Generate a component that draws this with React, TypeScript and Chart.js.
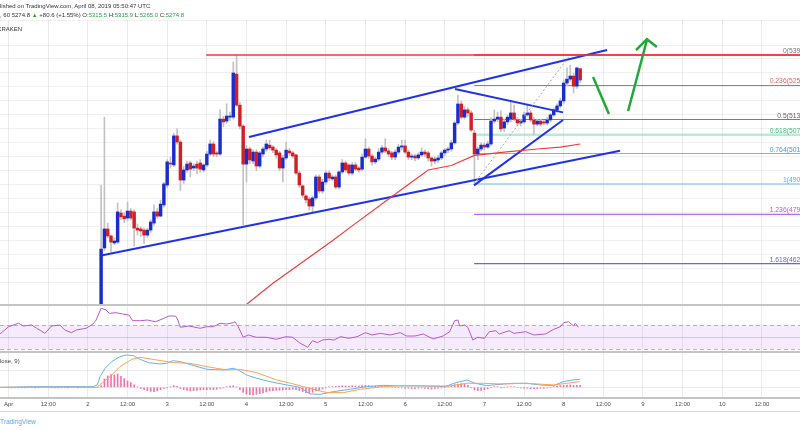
import React, { useEffect, useRef } from "react";
import { Chart, registerables } from "chart.js";

Chart.register(...registerables);

const FONT = '"Liberation Sans", Arial, Helvetica, sans-serif';

// ---- time axis: hours counted from Apr 1 00:00 UTC ----
const X_MIN = -2.603;
const X_MAX = 239.53;
const dayLabels = ["Apr", "2", "3", "4", "5", "6", "7", "8", "9", "10", "11"];
const halfDayLabel = "12:00";

// ---- 60-minute candles, first one at hour 28 ----
const FIRST_HOUR = 28;
const opens = [
  4160, 4674, 4742, 4717, 4692, 4695, 4799, 4788, 4781, 4806, 4803, 4745,
  4742, 4738, 4720, 4738, 4763, 4803, 4788, 4828, 4899, 4978, 4971, 5075,
  5053, 4917, 4953, 4978, 4960, 4974, 4978, 4953, 4971, 5010, 5046, 5014,
  5010, 5135, 5128, 5142, 5142, 5296, 5185, 5110, 4974, 5028, 4985, 5017,
  4967, 5010, 5028, 5042, 5035, 5024, 5014, 4960, 4996, 5021, 5014, 5007,
  4942, 4896, 4860, 4849, 4824, 4853, 4928, 4878, 4910, 4942, 4921, 4928,
  4892, 4946, 4978, 4971, 4942, 4971, 4960, 4956, 4999, 5028, 5003, 4982,
  4992, 5017, 5032, 5021, 5014, 4999, 5017, 5035, 5039, 5017, 4999, 5003,
  4996, 5007, 5017, 5014, 4996, 4985, 4989, 4996, 5014, 5024, 5028, 5050,
  5121, 5189, 5142, 5168, 5157, 5085, 5010, 5028, 5042, 5035, 5046, 5128,
  5135, 5142, 5103, 5125, 5135, 5157, 5132, 5121, 5125, 5150, 5157, 5132,
  5117, 5128, 5125, 5121, 5132, 5150, 5168, 5182, 5200, 5264, 5278, 5289,
  5253, 5315.5,
];
const highs = [
  4899, 5142, 4763, 4720, 4710, 4835, 4810, 4800, 4838, 4815, 4810, 4760,
  4750, 4745, 4745, 4775, 4828, 4815, 4845, 4910, 4990, 5000, 5085, 5100,
  5060, 4965, 4985, 4985, 4975, 4985, 4990, 4975, 5020, 5060, 5055, 5020,
  5168, 5145, 5190, 5160, 5339, 5364, 5195, 5115, 5040, 5035, 5025, 5025,
  5020, 5035, 5060, 5060, 5040, 5030, 5020, 5005, 5053, 5030, 5020, 5010,
  4950, 4900, 4865, 4855, 4860, 4935, 4935, 4920, 4950, 4950, 4935, 4935,
  4950, 4990, 4985, 4975, 4980, 4980, 4965, 5010, 5065, 5035, 5010, 5000,
  5030, 5040, 5065, 5030, 5020, 5025, 5045, 5060, 5060, 5025, 5010, 5010,
  5015, 5032, 5025, 5020, 5000, 5000, 5005, 5020, 5030, 5035, 5060, 5125,
  5221, 5200, 5180, 5175, 5165, 5096, 5035, 5050, 5050, 5055, 5140, 5168,
  5160, 5165, 5135, 5150, 5203, 5185, 5140, 5135, 5160, 5185, 5165, 5140,
  5135, 5135, 5130, 5140, 5155, 5175, 5190, 5210, 5275, 5318, 5328, 5300,
  5322, 5315.9,
];
const lows = [
  4150, 4665, 4710, 4660, 4685, 4690, 4775, 4765, 4770, 4775, 4680, 4720,
  4715, 4690, 4712, 4730, 4755, 4780, 4785, 4820, 4890, 4960, 4965, 5045,
  4880, 4905, 4945, 4928, 4950, 4940, 4945, 4945, 4965, 5005, 5000, 5000,
  5005, 5107, 5120, 5130, 5135, 5180, 5100, 4756, 4910, 4975, 4975, 4950,
  4960, 5000, 5020, 5025, 5015, 4995, 4950, 4910, 4990, 5005, 4995, 4935,
  4890, 4855, 4835, 4810, 4803, 4845, 4870, 4870, 4900, 4915, 4915, 4885,
  4885, 4940, 4945, 4935, 4935, 4950, 4945, 4950, 4995, 4995, 4970, 4975,
  4985, 5010, 5015, 5000, 4990, 4990, 5010, 5025, 5010, 4990, 4990, 4985,
  4990, 5000, 5000, 4985, 4967, 4975, 4980, 4990, 5005, 5015, 5020, 5045,
  5115, 5135, 5135, 5145, 5090, 4903, 4990, 5020, 5025, 5030, 5040, 5120,
  5125, 5090, 5090, 5115, 5125, 5130, 5110, 5110, 5120, 5145, 5125, 5080,
  5110, 5110, 5115, 5115, 5125, 5145, 5160, 5175, 5190, 5255, 5270, 5228,
  5245, 5265.0,
];
const closes = [
  4670, 4742, 4717, 4695, 4699, 4803, 4785, 4778, 4806, 4781, 4745, 4738,
  4735, 4720, 4738, 4767, 4803, 4788, 4831, 4903, 4982, 4974, 5075, 5053,
  4917, 4953, 4974, 4956, 4967, 4960, 4956, 4971, 5010, 5046, 5010, 5010,
  5135, 5125, 5146, 5146, 5300, 5185, 5110, 4974, 5028, 4989, 5017, 4967,
  5014, 5028, 5046, 5032, 5024, 5007, 4960, 4996, 5024, 5014, 5003, 4942,
  4899, 4863, 4846, 4824, 4853, 4928, 4878, 4910, 4942, 4924, 4928, 4892,
  4946, 4978, 4953, 4942, 4971, 4956, 4953, 4999, 5028, 5003, 4982, 4992,
  5017, 5032, 5021, 5010, 4999, 5017, 5035, 5039, 5017, 4999, 5003, 4996,
  5007, 5017, 5010, 4996, 4985, 4992, 4996, 5014, 5024, 5028, 5050, 5121,
  5189, 5142, 5168, 5157, 5096, 5010, 5028, 5042, 5035, 5046, 5128, 5135,
  5142, 5100, 5125, 5142, 5157, 5135, 5121, 5128, 5150, 5157, 5132, 5117,
  5128, 5117, 5121, 5132, 5150, 5168, 5182, 5200, 5264, 5278, 5289, 5253,
  5318, 5274.8,
];

// ---- moving average (red) vertices ----
const maHours = [70, 80, 98, 104, 115, 127, 134, 141, 150, 160, 167, 173];
const maValues = [4453, 4548, 4700, 4753, 4849, 4953, 4969, 5005, 5017, 5028, 5035, 5046];

// ---- drawn trend lines (hour, price) ----
const channelLowerHours = [27.66, 185.05];
const channelLowerPrices = [4646, 5022];
const channelUpperHours = [72.76, 181.11];
const channelUpperPrices = [5071, 5382];
const triangleTopHours = [135.1, 167.8];
const triangleTopPrices = [5243, 5159];
const triangleBottomHours = [140.86, 167.8];
const triangleBottomPrices = [4898, 5132];
const fibDiagonalHours = [140.86, 169.9];
const fibDiagonalPrices = [4903, 5364];
const resistanceHours = [59.8, 245];
const downMoveHours = [176.9, 181.7];
const downMovePrices = [5286, 5153];
const upMoveHours = [187.5, 193.2];
const upMovePrices = [5164, 5418];
const arrowHeadHours = [189.9, 193.2, 196.2];
const arrowHeadPrices = [5382, 5421, 5393];

// ---- Fibonacci retracement ----
const fibHigh = 5364;
const fibLow = 4903;
const fibStartHour = 140.9;
const fibEndHour = 245;
const fibRatios = [0, 0.236, 0.5, 0.618, 0.764, 1, 1.236, 1.618];
const fibLabels = [
  "0(5393.9)", "0.236(5253.2)", "0.5(5136.2)", "0.618(5078.7)",
  "0.764(5013.9)", "1(4906.5)", "1.236(4791.9)", "1.618(4621.9)",
];
const fibLineColors = [
  "rgb(240,55,55)", "rgb(228,95,95)", "rgb(150,110,128)", "rgba(120,220,180,0.55)",
  "rgb(120,180,230)", "rgb(160,205,238)", "rgb(190,105,230)", "rgb(105,105,212)",
];
const fibLineWidths = [1.5, 1, 1.2, 2.5, 1, 1.5, 1.2, 1.2];
const fibTextColors = [
  "rgb(120,120,120)", "rgb(228,95,95)", "rgb(110,90,100)", "rgb(70,185,125)",
  "rgb(70,150,220)", "rgb(90,170,230)", "rgb(180,90,220)", "rgb(100,100,215)",
];

// ---- RSI ----
const rsiHours = [
  -2.6, 0, 3, 4.5, 7, 8.5, 11, 13, 15.5, 17, 19, 20.5, 23.5, 25.5, 26.5, 28, 29.5, 30.5,
  32.5, 34.5, 36.5, 37.5, 40, 42, 44.5, 47, 48.5, 50.5, 51, 52, 54.5, 58, 60, 62, 64, 66,
  68, 68.5, 69.5, 71, 72.5, 75, 78, 81, 84, 86, 88, 90.5, 92, 93.5, 95, 97, 98.5, 100.5,
  103, 105.5, 108, 110, 112.5, 115.5, 118.5, 120.5, 123, 125.5, 128.5, 131.5, 133.5, 135,
  136, 136.5, 138, 139, 140.5, 142, 144, 145.5, 147.5, 148.5, 151.5, 153, 156.5, 159,
  162.5, 165, 167, 168, 169.5, 171, 171.5, 172.5,
];
const rsiValues = [
  55.2, 67.2, 72.8, 68.4, 70, 64.6, 56.3, 68.4, 70, 61.8, 57.4, 61.8, 64.6, 71.6, 78.2, 97.5, 94.7, 89.2,
  90.2, 88.1, 86.4, 77.1, 77.1, 78.2, 75.4, 81, 84.8, 84.8, 81, 66.2, 68.4, 64.6, 67.2, 67.2, 72.8, 71.6,
  73.8, 75.4, 67.2, 49.8, 53.6, 49.8, 49.8, 46.5, 50.8, 49.8, 40.9, 33.3, 44.2, 40.9, 45.3, 46.5, 45.3, 50.8,
  48.1, 50.8, 57.4, 53.6, 56.3, 53.6, 57.4, 51.9, 51.9, 55.2, 47, 51.9, 59, 77.1,
  78.2, 68.4, 70, 66.2, 45.3, 49.8, 48.1, 59, 60.6, 55.2, 60.6, 56.3, 59, 53.6,
  55.2, 62.9, 67.2, 73.8, 75.4, 68.4, 72.8, 66.2,
];
const RSI_MIN = 25.6;
const RSI_MAX = 102.9;
const RSI_UPPER = 70;
const RSI_LOWER = 30;

// ---- MACD ----
const macdHours = [
  -2.6, 7.5, 25.6, 26.8, 27.7, 29.2, 31.2, 33.7, 35.7, 37.7, 39.8, 42.3, 45.8, 47.8, 49.8,
  51.9, 55.4, 60, 65, 68, 69.5, 72, 75.1, 79.1, 84.2, 88.2, 91.2, 94.3, 98.3, 103.3, 108.4,
  113.4, 118.5, 124.5, 132.1, 135.1, 138.7, 141.2, 144.7, 148.7, 152.7, 156.8, 160.8,
  164.9, 167.9, 170.9, 172.9,
];
const macdValues = [
  0, 4, 4, 14, 64, 114, 154, 184, 194, 190, 168, 148, 140, 144, 160,
  154, 134, 108, 104, 114, 104, 74, 54, 34, 14, 0, -40, -42, -26, -12, 4,
  12, 8, 8, 4, 26, 44, 24, 10, 18, 24, 24, 14,
  10, 34, 44, 48,
];
const signalHours = [
  -2.6, 26.7, 30.7, 33.7, 37.3, 39.8, 44.8, 49.8, 54.9, 60, 66, 70, 75.1, 81.1, 86.2,
  91.2, 96.3, 101.3, 106.4, 113.4, 118.5, 128.5, 133.6, 138.7, 143.7, 148.7, 156.8,
  164.9, 168.9, 172.9,
];
const signalValues = [
  0, 0, 64, 124, 168, 180, 164, 148, 144, 124, 104, 108, 88, 44, 20,
  -6, -32, -32, -12, 4, 10, 8, 8, 24, 24, 20, 24,
  14, 24, 34,
];
const histValues = [
  -2, -2, -2, -1, -1, -2, -2, -2, -1, -1, 0, 0,
  -1, -1, -2, -2, -1, -1, -1, 0, 0, -1, -1, -1,
  0, 0, 0, 0,
  10, 50, 68, 76, 74, 80, 66, 52, 38, 28, 15, 2,
  -8, -14, -20, -24, -26, -22, -14, -6, -4, 4, 10, 6,
  -8, -14, -18, -22, -20, -18, -16, -14, -14, -12, -14, -12,
  -6, -4, 2, 8, 10, 2, -14, -30, -40, -44, -46, -42,
  -38, -34, -28, -22, -20, -18, -18, -16, -14, -14, -12, -14,
  -20, -26, -32, -34, -30, -22, -16, -10, -4, 2, 4, 6,
  8, 10, 8, 8, 10, 8, 8, 10, 12, 10, 8, 6,
  6, 8, 6, 4, 2, 0, -2, -4, -6, -6, -8, -8,
  -6, -4, -6, -8, -10, -8, -6, -4, 0, 4, 10, 16,
  20, 22, 18, 12, -4, -16, -20, -18, -14, -10, 0, 4,
  4, -2, 0, 2, 4, 2, 0, -4, -6, -6, -8, -8,
  -8, -6, -6, -4, 0, 4, 8, 10, 12, 14, 14, 12,
  12, 12,
];
const MACD_MIN = -64.2;
const MACD_MAX = 211.8;
const macdGridValues = [0, 100];

// ---- colours ----
const UP = "#1a2ccc";
const DOWN = "#d41e26";
const WICK = "#c2c2c2";
const TREND = "#2031ea";
const GRID = "rgba(0,0,0,0.08)";
const GREEN = "#27a243";

const pts = (xs: number[], ys: number[]) => xs.map((x, i) => ({ x, y: ys[i] }));

const lineDs = (data: any[], color: string, width: number, extra: any = {}) => ({
  type: "line",
  data,
  borderColor: color,
  borderWidth: width,
  pointRadius: 0,
  tension: 0,
  fill: false,
  order: 1,
  ...extra,
});

const xGridScale = (extra: any = {}) => ({
  type: "linear",
  min: X_MIN,
  max: X_MAX,
  offset: false,
  grid: { color: GRID, drawTicks: false, offset: false },
  border: { display: false },
  ticks: { display: false, stepSize: 12, includeBounds: false, autoSkip: false },
  ...extra,
});

const baseOptions = {
  responsive: false,
  animation: false as const,
  events: [] as any[],
  plugins: { legend: { display: false }, tooltip: { enabled: false } },
};

export default function App() {
  const mainRef = useRef<HTMLCanvasElement>(null);
  const rsiRef = useRef<HTMLCanvasElement>(null);
  const macdRef = useRef<HTMLCanvasElement>(null);

  useEffect(() => {
    document.body.style.margin = "0";
    const charts: Chart[] = [];
    const hours = opens.map((_, i) => FIRST_HOUR + i);
    const fibPrice = (r: number) => fibHigh - r * (fibHigh - fibLow);

    // ---------- main price pane ----------
    const fibLabelPlugin = {
      id: "fibLabels",
      afterDatasetsDraw(chart: any) {
        const { ctx, chartArea, scales } = chart;
        ctx.save();
        ctx.font = `6.8px ${FONT}`;
        ctx.textAlign = "right";
        ctx.textBaseline = "bottom";
        fibRatios.forEach((r, i) => {
          const y = scales.y.getPixelForValue(fibPrice(r));
          ctx.fillStyle = fibTextColors[i];
          ctx.fillText(fibLabels[i], chartArea.right + 12, y - 0.5);
        });
        ctx.restore();
      },
    };

    const fibDatasets = fibRatios.map((r, i) =>
      lineDs(
        pts([fibStartHour, fibEndHour], [fibPrice(r), fibPrice(r)]),
        fibLineColors[i],
        fibLineWidths[i],
        { order: 4 }
      )
    );

    charts.push(
      new Chart(mainRef.current!, {
        type: "bar",
        data: {
          datasets: [
            {
              type: "bar",
              data: hours.map((h, i) => ({ x: h, y: [lows[i], highs[i]] })),
              backgroundColor: WICK,
              barThickness: 1,
              grouped: false,
              borderWidth: 0,
              order: 3,
            },
            {
              type: "bar",
              data: hours.map((h, i) => ({ x: h, y: [opens[i], closes[i]] })),
              backgroundColor: hours.map((_, i) => (closes[i] >= opens[i] ? UP : DOWN)),
              barThickness: 2.8,
              minBarLength: 1,
              grouped: false,
              borderWidth: 0,
              order: 2,
            },
            ...fibDatasets,
            lineDs(pts(resistanceHours, [fibHigh, fibHigh]), "rgb(240,55,55)", 1.5),
            lineDs(pts(maHours, maValues), "#f23a3a", 1.2),
            lineDs(pts(fibDiagonalHours, fibDiagonalPrices), "#a9a9a9", 1, { borderDash: [2, 2] }),
            lineDs(pts(channelLowerHours, channelLowerPrices), TREND, 2),
            lineDs(pts(channelUpperHours, channelUpperPrices), TREND, 2),
            lineDs(pts(triangleTopHours, triangleTopPrices), TREND, 2),
            lineDs(pts(triangleBottomHours, triangleBottomPrices), TREND, 2),
            lineDs(pts(downMoveHours, downMovePrices), "#22a83a", 2.5),
            lineDs(pts(upMoveHours, upMovePrices), "#22a83a", 2.5),
            lineDs(pts(arrowHeadHours, arrowHeadPrices), "#22a83a", 2.5),
          ] as any,
        },
        options: {
          ...baseOptions,
          layout: { padding: { top: 20, left: 0, right: 0, bottom: 0 } },
          scales: {
            x: xGridScale(),
            y: {
              type: "linear",
              min: 4470,
              max: 5489.5,
              grid: { color: "rgba(0,0,0,0.06)", drawTicks: false },
              border: { display: false },
              ticks: { display: false, stepSize: 50 },
            },
          },
        } as any,
        plugins: [fibLabelPlugin],
      })
    );

    // ---------- RSI pane ----------
    const rsiBandPlugin = {
      id: "rsiBand",
      beforeDatasetsDraw(chart: any) {
        const { ctx, chartArea: a, scales } = chart;
        const top = scales.y.getPixelForValue(RSI_UPPER);
        const bot = scales.y.getPixelForValue(RSI_LOWER);
        const mid = scales.y.getPixelForValue((RSI_UPPER + RSI_LOWER) / 2);
        ctx.save();
        ctx.fillStyle = "rgba(155,60,230,0.1)";
        ctx.fillRect(a.left, top, a.right - a.left, bot - top);
        ctx.lineWidth = 1;
        ctx.strokeStyle = "rgba(150,115,170,0.55)";
        ctx.setLineDash([4, 3]);
        [top, bot].forEach((y) => {
          ctx.beginPath();
          ctx.moveTo(a.left, Math.round(y) + 0.5);
          ctx.lineTo(a.right, Math.round(y) + 0.5);
          ctx.stroke();
        });
        ctx.setLineDash([]);
        ctx.strokeStyle = "rgba(150,115,170,0.3)";
        ctx.beginPath();
        ctx.moveTo(a.left, Math.round(mid) + 0.5);
        ctx.lineTo(a.right, Math.round(mid) + 0.5);
        ctx.stroke();
        ctx.restore();
      },
    };

    charts.push(
      new Chart(rsiRef.current!, {
        type: "line",
        data: {
          datasets: [lineDs(pts(rsiHours, rsiValues), "rgb(180,90,210)", 1)] as any,
        },
        options: {
          ...baseOptions,
          layout: { padding: 0 },
          scales: {
            x: xGridScale(),
            y: { type: "linear", min: RSI_MIN, max: RSI_MAX, display: false },
          },
        } as any,
        plugins: [rsiBandPlugin],
      })
    );

    // ---------- MACD pane + time axis ----------
    charts.push(
      new Chart(macdRef.current!, {
        type: "bar",
        data: {
          datasets: [
            {
              type: "bar",
              data: histValues.map((v, i) => ({ x: i, y: v })),
              backgroundColor: "rgba(240,90,155,0.85)",
              barThickness: 1,
              grouped: false,
              borderWidth: 0,
              order: 3,
            },
            lineDs(pts(signalHours, signalValues), "rgb(255,160,85)", 1),
            lineDs(pts(macdHours, macdValues), "rgb(95,180,240)", 1),
          ] as any,
        },
        options: {
          ...baseOptions,
          layout: { padding: 0 },
          scales: {
            x: xGridScale({
              position: "bottom",
              afterFit: (s: any) => {
                s.height = 14;
              },
              ticks: {
                display: true,
                stepSize: 12,
                includeBounds: false,
                autoSkip: false,
                maxRotation: 0,
                minRotation: 0,
                padding: 3,
                color: "#4d4d4d",
                font: { size: 6, family: FONT },
                callback: (v: number) => (v % 24 === 0 ? dayLabels[v / 24] : halfDayLabel),
              },
            }),
            y: {
              type: "linear",
              min: MACD_MIN,
              max: MACD_MAX,
              grid: { color: GRID, drawTicks: false },
              border: { display: false },
              ticks: { display: false },
              afterBuildTicks: (s: any) => {
                s.ticks = macdGridValues.map((value) => ({ value }));
              },
            },
          },
        } as any,
      })
    );

    return () => charts.forEach((c) => c.destroy());
  }, []);

  const dark = "#333";
  const txt = (extra: React.CSSProperties): React.CSSProperties => ({
    position: "absolute",
    fontSize: 6,
    lineHeight: "7px",
    whiteSpace: "pre",
    color: dark,
    ...extra,
  });
  const sep = (top: number): React.CSSProperties => ({
    position: "absolute",
    left: 0,
    top,
    width: 800,
    height: 2,
    background: "#c4c4c4",
  });

  return (
    <div
      style={{
        position: "fixed",
        left: 0,
        top: 0,
        width: 800,
        height: 430,
        background: "#fff",
        overflow: "hidden",
        fontFamily: FONT,
      }}
    >
      <canvas ref={mainRef} width={800} height={305} style={{ position: "absolute", left: 0, top: 0 }} />
      <canvas ref={rsiRef} width={800} height={47} style={{ position: "absolute", left: 0, top: 305 }} />
      <canvas ref={macdRef} width={800} height={60} style={{ position: "absolute", left: 0, top: 352 }} />
      <div style={sep(304)} />
      <div style={sep(351)} />
      <div style={sep(397)} />
      <div style={{ position: "absolute", left: 0, top: 411, width: 800, height: 1, background: "#d6d6d6" }} />

      <div style={txt({ left: 0, top: 2.5 })}>lished on TradingView.com, April 08, 2019 05:50:47 UTC</div>
      <div style={txt({ left: 0, top: 11.5 })}>
        <span>, 60 5274.8 </span>
        <span style={{ color: GREEN }}>▲</span>
        <span> +80.6 (+1.55%) O:</span>
        <span style={{ color: GREEN }}>5315.5</span>
        <span> H:</span>
        <span style={{ color: GREEN }}>5315.9</span>
        <span> L:</span>
        <span style={{ color: GREEN }}>5265.0</span>
        <span> C:</span>
        <span style={{ color: GREEN }}>5274.8</span>
      </div>
      <div style={txt({ left: -2.5, top: 25.8 })}>KRAKEN</div>
      <div style={txt({ left: 0, top: 358, color: "#444" })}>lose, 9)</div>
      <div style={txt({ left: 0, top: 417.5, fontSize: 6.5, color: "rgb(85,170,230)" })}>TradingView</div>
    </div>
  );
}
